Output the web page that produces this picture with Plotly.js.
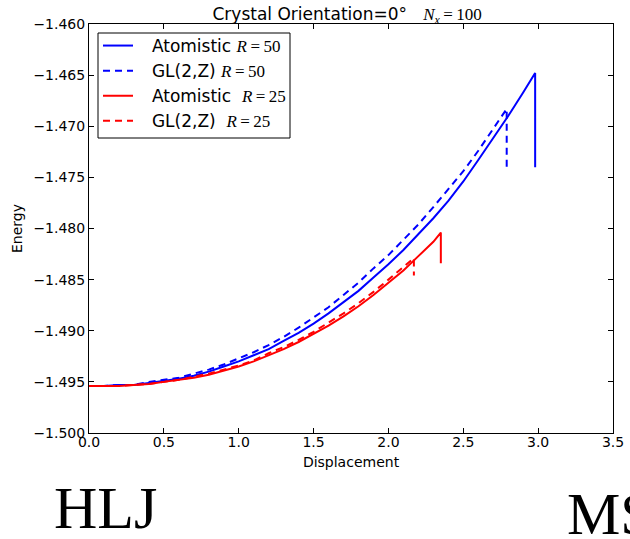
<!DOCTYPE html>
<html>
<head>
<meta charset="utf-8">
<script src="https://cdn.plot.ly/plotly-3.0.1.min.js"></script>
<style>
html,body{margin:0;padding:0;background:#fff;}
#chart{width:630px;height:539px;}
</style>
</head>
<body>
<div id="chart"></div>
<script>
// Atomistic R=50 (blue solid); last point repeats x for the vertical drop
const atom50X = [0, 0.1, 0.2, 0.3, 0.4, 0.5, 0.6, 0.7, 0.8, 0.9, 1.0, 1.1, 1.2, 1.3, 1.4, 1.5, 1.6, 1.7, 1.8, 1.9, 2.0, 2.1, 2.2, 2.3, 2.4, 2.5, 2.6, 2.7, 2.8, 2.9, 2.98, 2.98];
const atom50Y = [-1.4954, -1.4954, -1.4953, -1.4953, -1.4951, -1.4949, -1.4947, -1.4944, -1.4940, -1.4935, -1.4930, -1.4924, -1.4918, -1.4910, -1.4902, -1.4893, -1.4883, -1.4872, -1.4861, -1.4848, -1.4835, -1.4821, -1.4806, -1.4790, -1.4773, -1.4754, -1.4733, -1.4712, -1.4690, -1.4667, -1.4648, -1.4740];
// GL(2,Z) R=50 (blue dashed)
const gl50X = [0, 0.1, 0.2, 0.3, 0.4, 0.5, 0.6, 0.7, 0.8, 0.9, 1.0, 1.1, 1.2, 1.3, 1.4, 1.5, 1.6, 1.7, 1.8, 1.9, 2.0, 2.1, 2.2, 2.3, 2.4, 2.5, 2.6, 2.7, 2.79, 2.79];
const gl50Y = [-1.4954, -1.4954, -1.4953, -1.4953, -1.4950, -1.4948, -1.4946, -1.4942, -1.4938, -1.4933, -1.4927, -1.4921, -1.4914, -1.4906, -1.4897, -1.4887, -1.4877, -1.4865, -1.4853, -1.4839, -1.4826, -1.4811, -1.4796, -1.4779, -1.4762, -1.4744, -1.4724, -1.4703, -1.4683, -1.4744];
// Atomistic R=25 (red solid)
const atom25X = [0, 0.1, 0.2, 0.3, 0.4, 0.5, 0.6, 0.7, 0.8, 0.9, 1.0, 1.1, 1.2, 1.3, 1.4, 1.5, 1.6, 1.7, 1.8, 1.9, 2.0, 2.1, 2.2, 2.3, 2.35, 2.35];
const atom25Y = [-1.4954, -1.4954, -1.4954, -1.4953, -1.4952, -1.4950, -1.4948, -1.4946, -1.4943, -1.4939, -1.4935, -1.4930, -1.4924, -1.4918, -1.4911, -1.4903, -1.4895, -1.4886, -1.4876, -1.4865, -1.4853, -1.4841, -1.4827, -1.4813, -1.4804, -1.4834];
// GL(2,Z) R=25 (red dashed)
const gl25X = [0, 0.1, 0.2, 0.3, 0.4, 0.5, 0.6, 0.7, 0.8, 0.9, 1.0, 1.1, 1.2, 1.3, 1.4, 1.5, 1.6, 1.7, 1.8, 1.9, 2.0, 2.1, 2.17, 2.17];
const gl25Y = [-1.4954, -1.4954, -1.4954, -1.4953, -1.4952, -1.4950, -1.4948, -1.4945, -1.4942, -1.4938, -1.4934, -1.4929, -1.4922, -1.4916, -1.4909, -1.4901, -1.4892, -1.4883, -1.4873, -1.4862, -1.4850, -1.4838, -1.4829, -1.4846];

const mathFont = "Liberation Serif";
const lead = "\u2002\u00A0";
const seriesNames = [
  lead + "Atomistic <span style=\"font-family:'" + mathFont + "'\"><i>R</i>\u2009=\u200950</span>",
  lead + "GL(2,Z) <span style=\"font-family:'" + mathFont + "'\"><i>R</i>\u2009=\u200950</span>",
  lead + "Atomistic \u00A0<span style=\"font-family:'" + mathFont + "'\"><i>R</i>\u2009=\u200925</span>",
  lead + "GL(2,Z) \u00A0<span style=\"font-family:'" + mathFont + "'\"><i>R</i>\u2009=\u200925</span>"
];
const xTicks = [0, 0.5, 1.0, 1.5, 2.0, 2.5, 3.0, 3.5];
const yTicks = [-1.500, -1.495, -1.490, -1.485, -1.480, -1.475, -1.470, -1.465, -1.460];

const blue = '#0000ff', red = '#ff0000';
const dash = '7px,5px';

const traces = [
  {x: atom50X, y: atom50Y, name: seriesNames[0], mode: 'lines', line: {color: blue, width: 2}},
  {x: gl50X, y: gl50Y, name: seriesNames[1], mode: 'lines', line: {color: blue, width: 2, dash: dash}},
  {x: atom25X, y: atom25Y, name: seriesNames[2], mode: 'lines', line: {color: red, width: 2}},
  {x: gl25X, y: gl25Y, name: seriesNames[3], mode: 'lines', line: {color: red, width: 2, dash: dash}}
];

const axisCommon = {
  showline: true, linecolor: '#000', linewidth: 1, mirror: 'ticks',
  ticks: 'inside', ticklen: 5, tickcolor: '#000', tickwidth: 1,
  showgrid: false, zeroline: false,
  tickfont: {family: 'DejaVu Sans', size: 14, color: '#000'}
};

// legend frame position (pixels), converted to paper fractions
const L = 89, R = 613, T = 24, B = 433;
const px = v => (v - L) / (R - L);
const py = v => (B - v) / (B - T);

const layout = {
  width: 630, height: 539,
  margin: {l: 89, r: 17, t: 24, b: 106},
  paper_bgcolor: '#fff', plot_bgcolor: '#fff',
  font: {family: 'DejaVu Sans', color: '#000'},
  title: {
    text: "Crystal Orientation=0°\u00A0\u00A0\u00A0<span style=\"font-family:'" + mathFont + "'\"><i>N</i><sub><i>x</i></sub>\u2009=\u2009100</span>",
    font: {family: 'DejaVu Sans', size: 17, color: '#000'},
    x: 0.551, xanchor: 'center', y: 0.974, yanchor: 'middle', xref: 'container', yref: 'container'
  },
  xaxis: Object.assign({}, axisCommon, {
    range: [0, 3.5], tickvals: xTicks, tickformat: '.1f', ticklabelstandoff: -4,
    title: {text: 'Displacement', font: {family: 'DejaVu Sans', size: 14, color: '#000'}, standoff: 8}
  }),
  yaxis: Object.assign({}, axisCommon, {
    range: [-1.500, -1.460], tickvals: yTicks, tickformat: '.3f',
    title: {text: 'Energy', font: {family: 'DejaVu Sans', size: 14, color: '#000'}, standoff: 7}
  }),
  legend: {
    x: px(98), y: py(28), xanchor: 'left', yanchor: 'top',
    borderwidth: 0, bgcolor: 'rgba(0,0,0,0)',
    font: {family: 'DejaVu Sans', size: 17, color: '#000'},
    tracegroupgap: 0
  },
  showlegend: true,
  shapes: [
    {type: 'rect', xref: 'paper', yref: 'paper', x0: px(98), x1: px(290), y0: py(138), y1: py(33),
     line: {color: '#000', width: 1}, fillcolor: 'rgba(255,255,255,1)', layer: 'below'}
  ],
  annotations: [
    {text: 'HLJ', xref: 'paper', yref: 'paper', x: px(52), y: py(508),
     xanchor: 'left', yanchor: 'middle', showarrow: false,
     font: {family: 'Liberation Serif', size: 60, color: '#000'}},
    {text: 'MS', xref: 'paper', yref: 'paper', x: px(565), y: py(514),
     xanchor: 'left', yanchor: 'middle', showarrow: false,
     font: {family: 'Liberation Serif', size: 60, color: '#000'}}
  ]
};

Plotly.newPlot('chart', traces, layout, {displayModeBar: false, staticPlot: true});
</script>
</body>
</html>
